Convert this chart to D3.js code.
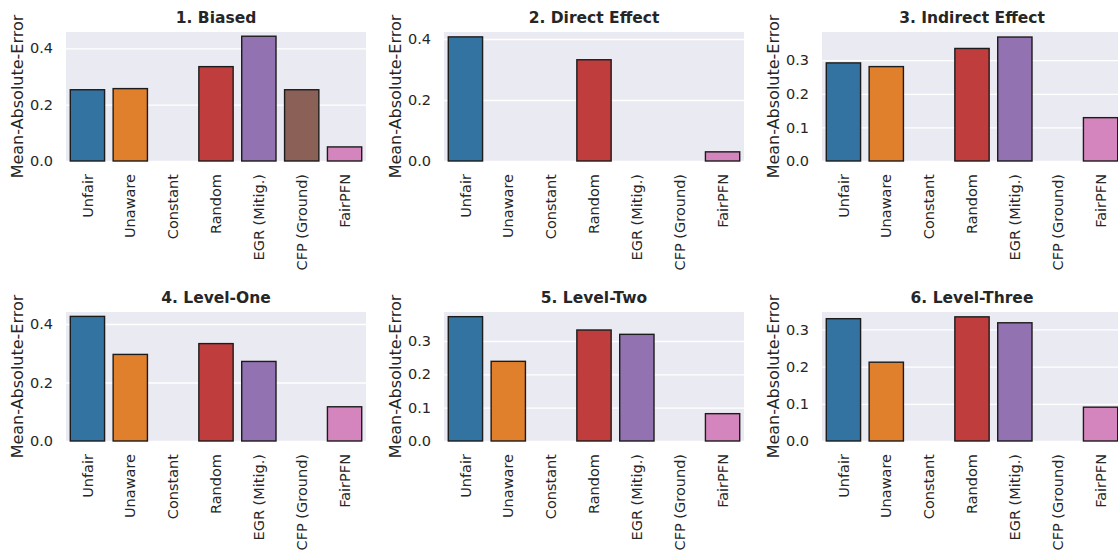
<!DOCTYPE html>
<html>
<head>
<meta charset="utf-8">
<script src="https://cdn.jsdelivr.net/npm/d3@7"></script>
<style>
  html, body { margin: 0; padding: 0; background: #ffffff; }
  svg { display: block; }
  text { font-family: "DejaVu Sans", sans-serif; fill: #262626; }
</style>
</head>
<body>
<svg id="chart" width="1118" height="552"></svg>
<script>
// ---- data ----
const categories = ["Unfair", "Unaware", "Constant", "Random", "EGR (Mitig.)", "CFP (Ground)", "FairPFN"];
const titles = ["1. Biased", "2. Direct Effect", "3. Indirect Effect", "4. Level-One", "5. Level-Two", "6. Level-Three"];
const biased     = [0.253, 0.257, 0, 0.335, 0.443, 0.253, 0.050];
const direct     = [0.407, 0, 0, 0.332, 0, 0, 0.030];
const indirect   = [0.292, 0.281, 0, 0.335, 0.369, 0, 0.129];
const levelOne   = [0.426, 0.296, 0, 0.333, 0.272, 0, 0.117];
const levelTwo   = [0.373, 0.239, 0, 0.333, 0.320, 0, 0.082];
const levelThree = [0.329, 0.212, 0, 0.334, 0.318, 0, 0.091];
const yTicksA = [0, 0.2, 0.4];
const yTicksB = [0, 0.1, 0.2, 0.3];
const yTicks = [yTicksA, yTicksA, yTicksB, yTicksA, yTicksB, yTicksB];
const yMax = [0.458, 0.423, 0.384, 0.441, 0.387, 0.347];
const yLabel = "Mean-Absolute-Error";
const colors = ["#3273a1", "#e1802c", "#3a923a", "#c03d3e", "#9372b2", "#8b6057", "#d585bd"];

const series = [biased, direct, indirect, levelOne, levelTwo, levelThree];

// ---- layout ----
const colLeft = [66, 444, 822];
const rowTop = [32, 312];
const plotW = 300, plotH = 129;

const svg = d3.select("#chart");
svg.append("rect").attr("width", 1118).attr("height", 552).attr("fill", "#ffffff");

series.forEach((vals, i) => {
  const left = colLeft[i % 3], top = rowTop[Math.floor(i / 3)];
  const g = svg.append("g").attr("transform", `translate(${left},${top})`);

  const x = d3.scaleBand().domain(categories).range([0, plotW]).paddingInner(0.2).paddingOuter(0.1);
  const y = d3.scaleLinear().domain([0, yMax[i]]).range([plotH, 0]);

  g.append("rect").attr("width", plotW).attr("height", plotH).attr("fill", "#eaeaf2");

  // grid
  const grid = g.append("g").call(d3.axisLeft(y).tickValues(yTicks[i]).tickSize(-plotW).tickFormat(""));
  grid.select(".domain").remove();
  grid.selectAll("line").attr("stroke", "#ffffff").attr("stroke-width", 1.3);

  // bars
  const data = categories.map((c, k) => ({ c, v: vals[k], col: colors[k] })).filter(d => d.v > 0);
  g.selectAll("rect.bar").data(data).enter().append("rect")
    .attr("class", "bar")
    .attr("x", d => x(d.c))
    .attr("width", x.bandwidth())
    .attr("y", d => y(d.v))
    .attr("height", d => y(0) - y(d.v))
    .attr("fill", d => d.col)
    .attr("stroke", "#1c1c1c")
    .attr("stroke-width", 1.4);

  // y axis
  const ya = g.append("g").call(d3.axisLeft(y).tickValues(yTicks[i]).tickSize(0).tickPadding(13).tickFormat(d3.format(".1f")));
  ya.select(".domain").remove();
  ya.selectAll("text").style("font-size", "14.5px").attr("fill", "#262626");

  // x axis
  const xa = g.append("g").attr("transform", `translate(0,${plotH})`).call(d3.axisBottom(x).tickSize(0));
  xa.select(".domain").remove();
  xa.selectAll("text")
    .attr("transform", "rotate(-90)")
    .attr("x", -13).attr("y", 0).attr("dy", "0.35em")
    .attr("text-anchor", "end")
    .style("font-size", "14.5px").attr("fill", "#262626");

  // title
  g.append("text").attr("x", plotW / 2).attr("y", -9).attr("text-anchor", "middle")
    .style("font-size", "15.5px").style("font-weight", "bold").text(titles[i]);

  // y label
  g.append("text").attr("transform", `translate(-43,${plotH / 2}) rotate(-90)`)
    .attr("text-anchor", "middle").style("font-size", "16px").text(yLabel);
});
</script>
</body>
</html>
